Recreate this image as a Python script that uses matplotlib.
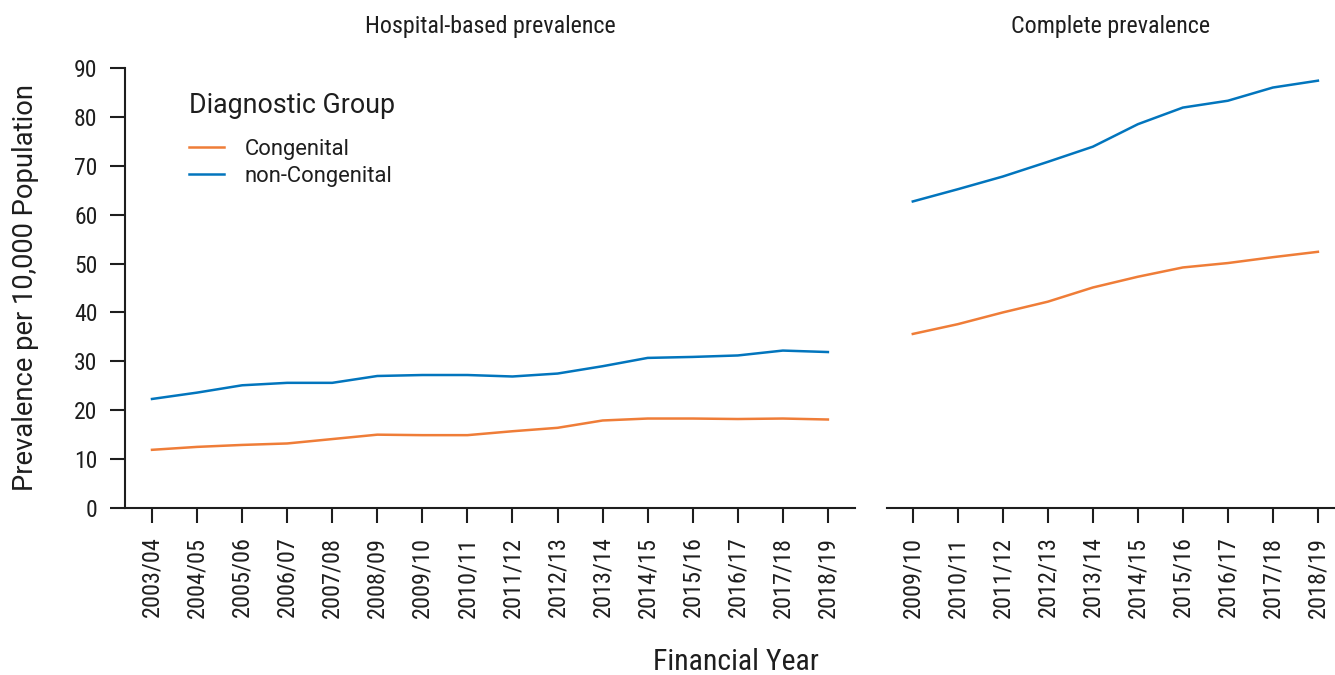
import matplotlib
matplotlib.use('Agg')
import matplotlib.pyplot as plt
from matplotlib import font_manager

names = {f.name for f in font_manager.fontManager.ttflist}
COND = [f for f in ['Roboto Condensed', 'Roboto', 'DejaVu Sans'] if f in names]
REG = [f for f in ['Roboto', 'DejaVu Sans'] if f in names]
plt.rcParams['font.family'] = COND

ORANGE = '#EF7D38'
BLUE = '#0275BD'
TEXT = '#1e1e1e'

hosp_years = ['2003/04', '2004/05', '2005/06', '2006/07', '2007/08', '2008/09',
              '2009/10', '2010/11', '2011/12', '2012/13', '2013/14', '2014/15',
              '2015/16', '2016/17', '2017/18', '2018/19']
hosp_congenital = [11.9, 12.5, 12.9, 13.2, 14.1, 15.0, 14.9, 14.9,
                   15.7, 16.4, 17.9, 18.3, 18.3, 18.2, 18.3, 18.1]
hosp_noncongenital = [22.3, 23.6, 25.1, 25.6, 25.6, 27.0, 27.2, 27.2,
                      26.9, 27.5, 29.0, 30.7, 30.9, 31.2, 32.2, 31.9]

comp_years = ['2009/10', '2010/11', '2011/12', '2012/13', '2013/14',
              '2014/15', '2015/16', '2016/17', '2017/18', '2018/19']
comp_congenital = [35.6, 37.6, 40.0, 42.2, 45.1, 47.3, 49.2, 50.1, 51.3, 52.4]
comp_noncongenital = [62.7, 65.2, 67.8, 70.8, 73.9, 78.5, 81.9, 83.3, 86.0, 87.4]

fig = plt.figure(figsize=(13.35, 6.75), dpi=100)
ax1 = fig.add_axes([0.0936, 0.2474, 0.5468, 0.6519])
ax2 = fig.add_axes([0.6642, 0.2474, 0.3358, 0.6519], sharey=ax1)

panels = [
    (ax1, hosp_years, hosp_congenital, hosp_noncongenital, 'Hospital-based prevalence'),
    (ax2, comp_years, comp_congenital, comp_noncongenital, 'Complete prevalence'),
]
for ax, years, cong, noncong, title in panels:
    x = list(range(len(years)))
    ax.plot(x, cong, color=ORANGE, linewidth=1.8, label='Congenital')
    ax.plot(x, noncong, color=BLUE, linewidth=1.8, label='non-Congenital')
    ax.set_xticks(x)
    ax.set_xticklabels(years, rotation=90, fontsize=17.5, color=TEXT)
    ax.set_title(title, fontsize=17.3, color=TEXT, pad=25)
    for s in ['top', 'right']:
        ax.spines[s].set_visible(False)
    ax.spines['bottom'].set_linewidth(1.5)
    ax.spines['bottom'].set_color(TEXT)
    ax.tick_params(axis='x', length=10.6, width=1.5, color=TEXT, pad=10)

ax1.set_xlim(-0.6, 15.6)
ax2.set_xlim(-0.58, 9.38)
ax1.set_ylim(0, 90)
ax1.set_yticks(range(0, 91, 10))
ax1.tick_params(axis='y', length=10.8, width=1.5, color=TEXT, labelsize=17,
                labelcolor=TEXT, pad=9)
ax1.spines['left'].set_linewidth(1.5)
ax1.spines['left'].set_color(TEXT)
ax2.spines['left'].set_visible(False)
ax2.tick_params(axis='y', left=False, labelleft=False)

fig.text(0.0191, 0.5737, 'Prevalence per 10,000 Population', rotation=90,
         ha='center', va='center', fontsize=19.7, color=TEXT, family=REG)
fig.text(0.5513, 0.0074, 'Financial Year', fontsize=21.5, color=TEXT,
         ha='center', va='baseline')

leg = ax1.legend(loc='upper left', bbox_to_anchor=(0.06, 0.99), frameon=False,
                 title='Diagnostic Group', title_fontsize=19.3,
                 prop={'family': REG, 'size': 15.8},
                 handlelength=1.6, handletextpad=0.96, labelspacing=0.3)
leg.get_title().set_color(TEXT)
leg.get_title().set_family(REG)
leg._legend_box.align = 'left'
leg._legend_box.sep = 14
for t in leg.get_texts():
    t.set_color(TEXT)

fig.savefig('out.png', dpi=100)
